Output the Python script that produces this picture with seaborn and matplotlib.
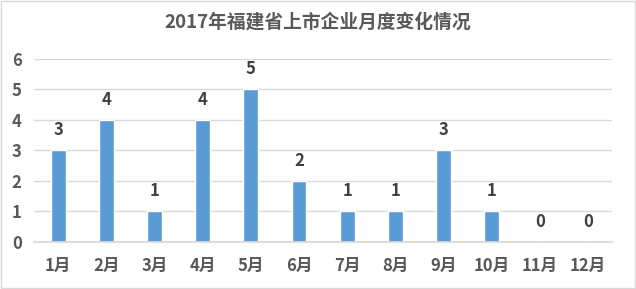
import matplotlib
matplotlib.use("Agg")
import matplotlib.pyplot as plt
import seaborn as sns
import pandas as pd

months = ["1月", "2月", "3月", "4月", "5月", "6月", "7月", "8月", "9月", "10月", "11月", "12月"]
counts = [3, 4, 1, 4, 5, 2, 1, 1, 3, 1, 0, 0]
title = "2017年福建省上市企业月度变化情况"

sns.set_theme(style="white")
plt.rcParams['font.family'] = ['Noto Sans CJK SC', 'DejaVu Sans']

df = pd.DataFrame({"month": months, "count": counts})

fig = plt.figure(figsize=(6.36, 2.89), dpi=100)
ax = fig.add_axes([0.0535, 0.163, 0.909, 0.633])
sns.barplot(data=df, x="month", y="count", color="#5B9BD5", saturation=1, width=0.31, ax=ax)

ax.set_ylim(0, 6)
ax.set_yticks(range(0, 7))
ax.yaxis.grid(True, color="#D9D9D9", linewidth=1)
ax.set_axisbelow(True)
for s in ["left", "right", "top"]:
    ax.spines[s].set_visible(False)
ax.spines["bottom"].set_color("#D9D9D9")
ax.set_xlabel("")
ax.set_ylabel("")
ax.tick_params(axis="both", length=0, labelsize=12, labelcolor="#595959")
ax.tick_params(axis="x", pad=11)
ax.tick_params(axis="y", pad=16)
for lab in ax.get_xticklabels() + ax.get_yticklabels():
    lab.set_fontweight("bold")
for lab in ax.get_yticklabels():
    lab.set_horizontalalignment("left")

for i, v in enumerate(counts):
    ax.annotate(str(v), (i, v), xytext=(0, 8), textcoords="offset points",
                ha="center", va="bottom", fontsize=12, fontweight="bold", color="#404040")

fig.text(0.5, 0.925, title, ha="center", va="center", fontsize=13.5, fontweight="bold", color="#595959")

border = plt.Rectangle((0.001, 0.002), 0.997, 0.995, transform=fig.transFigure,
                       fill=False, edgecolor="#D9D9D9", linewidth=1)
fig.patches.append(border)

fig.savefig("out.png", dpi=100)
